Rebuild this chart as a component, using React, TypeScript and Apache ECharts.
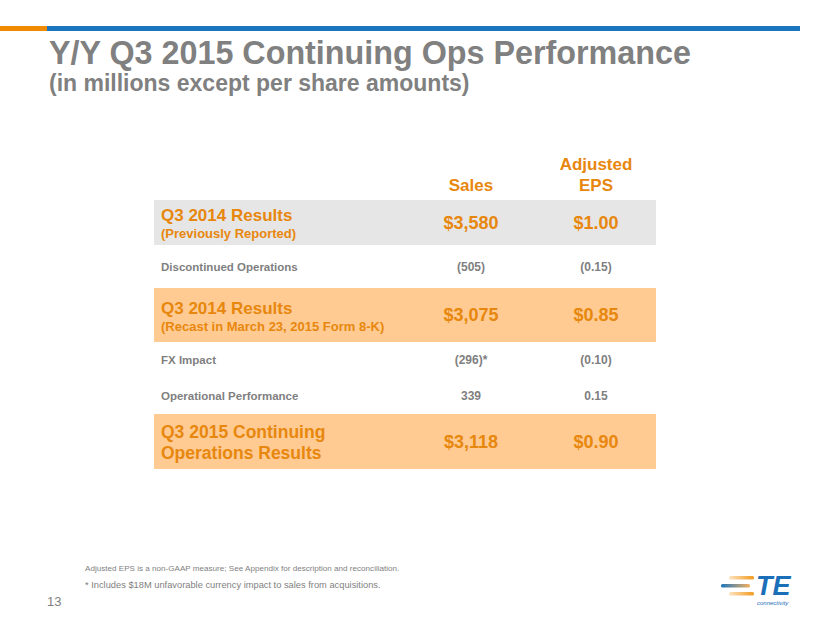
import React, { useEffect, useRef } from "react";
import * as echarts from "echarts";

const titleText = "Y/Y Q3 2015 Continuing Ops Performance";
const subtitleText = "(in millions except per share amounts)";
const columnHeaders = ["Sales", "Adjusted\nEPS"];
const rowLabels = [
  "Q3 2014 Results",
  "Discontinued Operations",
  "Q3 2014 Results",
  "FX Impact",
  "Operational Performance",
  "Q3 2015 Continuing\nOperations Results",
];
const rowSubLabels = ["(Previously Reported)", "", "(Recast in March 23, 2015 Form 8-K)", "", "", ""];
const salesValues = ["$3,580", "(505)", "$3,075", "(296)*", "339", "$3,118"];
const epsValues = ["$1.00", "(0.15)", "$0.85", "(0.10)", "0.15", "$0.90"];
const rowKinds = ["grey", "plain", "orange", "plain", "plain", "orange"];
const footnotes = [
  "Adjusted EPS is a non-GAAP measure; See Appendix for description and reconciliation.",
  "* Includes $18M unfavorable currency impact to sales from acquisitions.",
];
const pageNumber = "13";

const ORANGE = "#E8870E";
const GREY_TEXT = "#7F7F7F";
const FONT = "Liberation Sans, Arial, sans-serif";

export default function App() {
  const ref = useRef<HTMLDivElement>(null);
  useEffect(() => {
    if (!ref.current) return;
    const chart = echarts.init(ref.current, null, { renderer: "svg" });

    const rowTops = [200, 245, 288, 342, 378, 414];
    const rowBottoms = [245, 288, 342, 378, 414, 469];
    const tableLeft = 154;
    const tableRight = 656;
    const salesX = 471;
    const epsX = 596;
    const labelX = 161;

    const els: any[] = [];
    // top bars
    els.push({ type: "rect", shape: { x: 0, y: 26, width: 47, height: 5 }, style: { fill: "#F08A00" } });
    els.push({ type: "rect", shape: { x: 47, y: 26, width: 753, height: 5 }, style: { fill: "#1B75BC" } });
    // titles
    els.push({
      type: "text", x: 49, y: 53,
      style: { text: titleText, font: `bold 32.3px ${FONT}`, fill: "#808080", textVerticalAlign: "middle" },
    });
    els.push({
      type: "text", x: 49, y: 83,
      style: { text: subtitleText, font: `bold 23px ${FONT}`, fill: "#808080", textVerticalAlign: "middle" },
    });
    // column headers
    const headerXs = [salesX, epsX];
    columnHeaders.forEach((h, i) => {
      els.push({
        type: "text", x: headerXs[i], y: 196,
        style: {
          text: h, font: `bold 17px ${FONT}`, fill: ORANGE, align: "center",
          verticalAlign: "bottom", lineHeight: 21,
        },
      });
    });
    // rows
    rowLabels.forEach((label, i) => {
      const top = rowTops[i];
      const bottom = rowBottoms[i];
      const mid = (top + bottom) / 2;
      const kind = rowKinds[i];
      if (kind !== "plain") {
        els.push({
          type: "rect",
          shape: { x: tableLeft, y: top, width: tableRight - tableLeft, height: bottom - top },
          style: { fill: kind === "grey" ? "#E6E6E6" : "#FFCB92" },
        });
      }
      const big = kind !== "plain";
      const valColor = big ? ORANGE : GREY_TEXT;
      const valFont = big ? `bold 18px ${FONT}` : `bold 12px ${FONT}`;
      if (big) {
        const sub = rowSubLabels[i];
        if (sub) {
          els.push({
            type: "text", x: labelX, y: mid - 7,
            style: { text: label, font: `bold 17px ${FONT}`, fill: ORANGE, verticalAlign: "middle" },
          });
          els.push({
            type: "text", x: labelX, y: mid + 11,
            style: { text: sub, font: `bold 13px ${FONT}`, fill: ORANGE, verticalAlign: "middle" },
          });
        } else {
          els.push({
            type: "text", x: labelX, y: mid + 1,
            style: { text: label, font: `bold 17.5px ${FONT}`, fill: ORANGE, verticalAlign: "middle", lineHeight: 21 },
          });
        }
      } else {
        els.push({
          type: "text", x: labelX, y: mid,
          style: { text: label, font: `bold 11.5px ${FONT}`, fill: GREY_TEXT, verticalAlign: "middle" },
        });
      }
      els.push({
        type: "text", x: salesX, y: mid,
        style: { text: salesValues[i], font: valFont, fill: valColor, align: "center", verticalAlign: "middle" },
      });
      els.push({
        type: "text", x: epsX, y: mid,
        style: { text: epsValues[i], font: valFont, fill: valColor, align: "center", verticalAlign: "middle" },
      });
    });
    // footnotes
    els.push({
      type: "text", x: 85, y: 568,
      style: { text: footnotes[0], font: `8.1px ${FONT}`, fill: GREY_TEXT, verticalAlign: "middle" },
    });
    els.push({
      type: "text", x: 85, y: 585,
      style: { text: footnotes[1], font: `9.3px ${FONT}`, fill: GREY_TEXT, verticalAlign: "middle" },
    });
    els.push({
      type: "text", x: 47, y: 601,
      style: { text: pageNumber, font: `13px ${FONT}`, fill: GREY_TEXT, verticalAlign: "middle" },
    });
    // logo
    const grad = (c1: string, c2: string) =>
      new echarts.graphic.LinearGradient(0, 0, 1, 0, [
        { offset: 0, color: c1 },
        { offset: 1, color: c2 },
      ]);
    els.push({ type: "rect", shape: { x: 729, y: 576, width: 25, height: 3.5, r: 1.5 }, style: { fill: grad("#FDE3C0", "#F39A1E") } });
    els.push({ type: "rect", shape: { x: 721, y: 584, width: 29, height: 3.5, r: 1.5 }, style: { fill: grad("#1B75BC", "#F5B060") } });
    els.push({ type: "rect", shape: { x: 729, y: 592, width: 25, height: 3.5, r: 1.5 }, style: { fill: grad("#FDE3C0", "#F39A1E") } });
    els.push({
      type: "text", x: 756, y: 586,
      style: { text: "TE", font: `italic bold 27px ${FONT}`, fill: "#1B6EB8", verticalAlign: "middle" },
    });
    els.push({
      type: "text", x: 757, y: 603,
      style: { text: "connectivity", font: `italic 6px ${FONT}`, fill: "#1B6EB8", verticalAlign: "middle" },
    });

    chart.setOption({
      animation: false,
      backgroundColor: "#FFFFFF",
      graphic: { elements: els },
    });
    return () => chart.dispose();
  }, []);
  return <div ref={ref} style={{ width: 830, height: 623, position: "absolute", left: 0, top: 0 }} />;
}
